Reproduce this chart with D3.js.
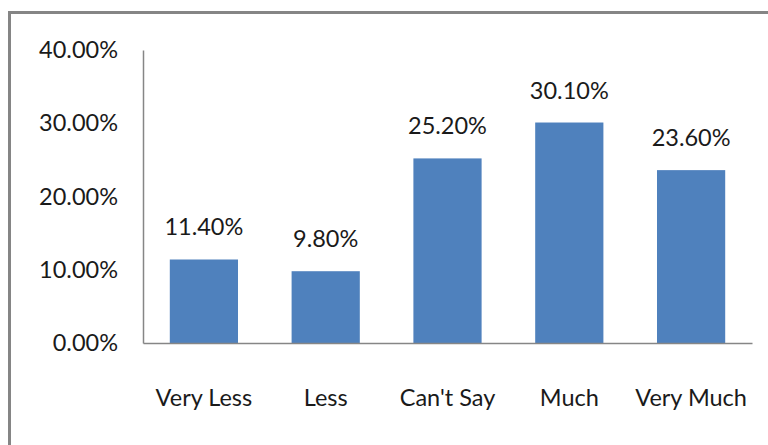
<!DOCTYPE html>
<html>
<head>
<meta charset="utf-8">
<script src="https://cdn.jsdelivr.net/npm/d3@7"></script>
<style>
  body { margin: 0; background: #fff; }
  text { font-family: Lato, "Open Sans", sans-serif; fill: #1a1a1a; }
</style>
</head>
<body>
<script>
    // Chart data
    const categories = ['Very Less', 'Less', "Can't Say", 'Much', 'Very Much'];
    const shares = [11.4, 9.8, 25.2, 30.1, 23.6];
    const yTicks = [0, 10, 20, 30, 40];

    const width = 768, height = 445;
    const margin = { top: 50, right: 16, bottom: 102, left: 143 };

    const svg = d3.select('body')
        .append('svg')
        .attr('width', width)
        .attr('height', height);

    // Outer frame (cut off on the right and bottom)
    svg.append('rect')
        .attr('x', 9.5)
        .attr('y', 12.5)
        .attr('width', width + 20)
        .attr('height', height + 20)
        .attr('fill', 'none')
        .attr('stroke', '#858585')
        .attr('stroke-width', 3);

    const x = d3.scaleBand()
        .domain(categories)
        .range([margin.left, width - margin.right])
        .paddingInner(0.44)
        .paddingOuter(0.22);

    const y = d3.scaleLinear()
        .domain([0, 40])
        .range([height - margin.bottom, margin.top]);

    // Bars
    svg.selectAll('.bar')
        .data(categories)
        .enter()
        .append('rect')
        .attr('class', 'bar')
        .attr('x', d => x(d))
        .attr('y', (d, i) => y(shares[i]))
        .attr('width', x.bandwidth())
        .attr('height', (d, i) => y(0) - y(shares[i]))
        .attr('fill', '#4f81bd');

    // Value labels above bars
    svg.selectAll('.value')
        .data(categories)
        .enter()
        .append('text')
        .attr('class', 'value')
        .attr('x', d => x(d) + x.bandwidth() / 2)
        .attr('y', (d, i) => y(shares[i]) - 24)
        .attr('text-anchor', 'middle')
        .attr('font-size', 23.5)
        .text((d, i) => shares[i].toFixed(2) + '%');

    // Y axis
    const yAxis = svg.append('g')
        .attr('transform', `translate(${margin.left},0)`)
        .call(d3.axisLeft(y)
            .tickValues(yTicks)
            .tickSize(0)
            .tickPadding(25)
            .tickFormat(d => d.toFixed(2) + '%'));
    yAxis.select('.domain').attr('stroke', '#868686').attr('stroke-width', 1.5);
    yAxis.selectAll('text')
        .attr('font-size', 23.5)
        .attr('fill', '#1a1a1a')
        .attr('font-family', 'Lato, "Open Sans", sans-serif');

    // X axis
    const xAxis = svg.append('g')
        .attr('transform', `translate(0,${y(0)})`)
        .call(d3.axisBottom(x).tickSize(0).tickPadding(46));
    xAxis.select('.domain').attr('stroke', '#868686').attr('stroke-width', 1.5);
    xAxis.selectAll('text')
        .attr('font-size', 23.5)
        .attr('fill', '#1a1a1a')
        .attr('font-family', 'Lato, "Open Sans", sans-serif');
</script>
</body>
</html>
